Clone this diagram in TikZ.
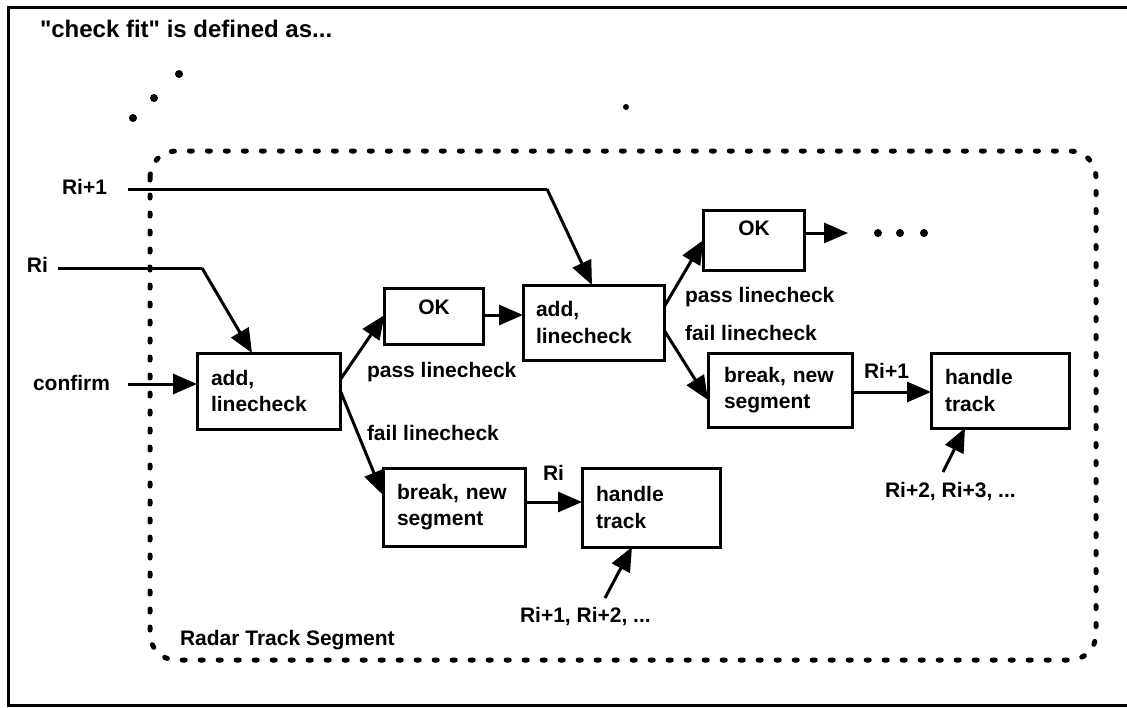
\documentclass[tikz,border=0pt]{standalone}
\usepackage{fontspec}
\setmainfont{Liberation Sans}[Ligatures=TeXOff]
\usetikzlibrary{arrows.meta,calc}
\newcommand{\lblfont}{\fontsize{21}{26.5}\selectfont\bfseries}
\begin{document}
\begin{tikzpicture}[x=1pt,y=-1pt,
  every node/.style={inner sep=0pt, outer sep=0pt},
  box/.style={draw, line width=3pt, rectangle, inner ysep=0pt, inner xsep=14pt, font=\lblfont, align=left},
  okbox/.style={box, align=center, text height=15pt},
  lbl/.style={anchor=base west, font=\lblfont},
  conn/.style={line width=3pt, -{Triangle[length=24pt,width=20pt]}},
  wire/.style={line width=3pt},
  dotline/.style={line width=5pt, line cap=round, dash pattern=on 3pt off 15pt},
  bigdot/.style={circle, fill, minimum size=8pt},
  smalldot/.style={circle, fill, minimum size=6pt}
]
\useasboundingbox (0,0) rectangle (1127,707);
% outer frame
\draw[line width=3pt] (1127,7) -- (8,7) -- (8,705) -- (1127,705);
% title
\node[anchor=base west, font=\fontsize{24}{28}\selectfont\bfseries] (title) at (40,37) {"check fit" is defined as...};
% decorative dots
\node[bigdot] (e1) at (133,118) {};
\node[bigdot] (e2) at (154,98) {};
\node[bigdot] (e3) at (179,74) {};
\node[smalldot] (e4) at (626,107) {};
% segment boundary
\draw[dotline, rounded corners=26pt] (150,151) rectangle (1096,660);
\node[lbl] (seg) at (180,645) {Radar Track Segment};

% boxes
\node[box, minimum width=143pt, minimum height=76pt, text width=115pt] (A) at (268.5,391) {add,\\linecheck};
\node[okbox, minimum width=99pt, minimum height=56pt, text width=71pt, text depth=19pt] (OK1) at (434,316) {OK};
\node[box, minimum width=141pt, minimum height=75pt, text width=115pt, inner xsep=13pt] (A2) at (593.5,322.5) {add,\\linecheck};
\node[okbox, minimum width=101pt, minimum height=60pt, text width=73pt, text depth=25pt] (OK2) at (754,240) {OK};
\node[box, minimum width=144pt, minimum height=74pt, text width=112pt, inner xsep=16pt] (B2) at (780,390) {break, new\\segment};
\node[box, minimum width=138pt, minimum height=75pt, text width=110pt] (H2) at (1000,390.5) {handle\\track};
\node[box, minimum width=142pt, minimum height=78pt, text width=114pt] (B1) at (454,507) {break, new\\segment};
\node[box, minimum width=138pt, minimum height=79pt, text width=110pt] (H1) at (651,507.5) {handle\\track};

% continuation dots
\node[bigdot] (d1) at (878,233) {};
\node[bigdot] (d2) at (900,233) {};
\node[bigdot] (d3) at (924,233) {};

% input labels
\node[lbl] (lRi1) at (62,194) {Ri+1};
\node[lbl] (lRi) at (27,272) {Ri};
\node[lbl] (lconf) at (33,390) {confirm};
\coordinate (ri1S) at (128,189);
\coordinate (ri1K) at (547,189);
\coordinate (riS) at (58,268);
\coordinate (riK) at (202,268);
\coordinate (cS) at (128,384);

\draw[wire] (ri1S) -- (ri1K);
\draw[conn] (ri1K) -- ($(A2.north west)+(69,0)$);
\draw[wire] (riS) -- (riK);
\draw[conn] (riK) -- ($(A.north west)+(55,0)$);
\draw[conn] (cS) -- (cS -| A.west);

% branch labels
\node[lbl] (pass1) at (367,377) {pass linecheck};
\node[lbl] (fail1) at (367,440) {fail linecheck};
\node[lbl] (pass2) at (685,302) {pass linecheck};
\node[lbl] (fail2) at (685,340) {fail linecheck};
\node[lbl] (lRiB) at (543,480) {Ri};
\node[lbl] (lRi1B) at (864,378) {Ri+1};
\node[lbl] (lmore1) at (520,622) {Ri+1, Ri+2, ...};
\node[lbl] (lmore2) at (885,497) {Ri+2, Ri+3, ...};

% flow connectors
\draw[conn] ($(A.north east)+(0,27)$) -- ($(OK1.north west)+(0,27)$);
\draw[conn] ($(A.north east)+(0,37)$) -- ($(B1.north west)+(0,27)$);
\draw[conn] ($(OK1.north east)+(0,27)$) -- ($(A2.north west)+(0,30)$);
\draw[conn] ($(A2.north east)+(0,22)$) -- ($(OK2.north west)+(0,30)$);
\draw[conn] ($(A2.north east)+(0,45)$) -- ($(B2.north west)+(0,47)$);
\coordinate (okEnd) at (848,233);
\draw[conn] ($(OK2.north east)+(0,23)$) -- (okEnd);
\draw[conn] ($(B2.north east)+(0,39)$) -- ($(H2.north west)+(0,39)$);
\draw[conn] ($(B1.north east)+(0,34)$) -- ($(H1.north west)+(0,34)$);
\coordinate (m1S) at (605,598);
\coordinate (m2S) at (943,472);
\draw[conn] (m1S) -- ($(H1.south west)+(50,0)$);
\draw[conn] (m2S) -- ($(H2.south west)+(34,0)$);
\end{tikzpicture}
\end{document}
